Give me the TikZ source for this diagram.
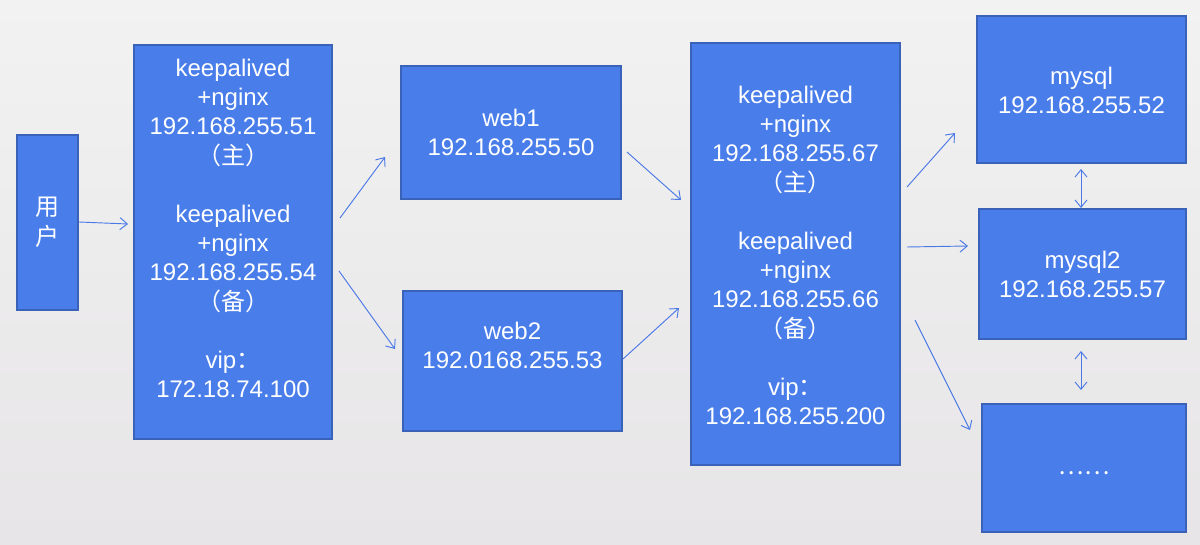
\documentclass[tikz,border=0pt]{standalone}
\usepackage{fontspec}
\setmainfont{Liberation Sans}
\newfontfamily\cjk{Noto Sans CJK SC}
\usetikzlibrary{arrows.meta,fit}
\definecolor{boxfill}{HTML}{487DEA}
\definecolor{boxline}{HTML}{3A62B8}
\definecolor{arrowc}{HTML}{4A78E6}
\definecolor{bgtop}{HTML}{F2F2F2}
\definecolor{bgbot}{HTML}{E7E5E7}
\tikzset{
  box/.style={draw=boxline, line width=0.9pt, fill=boxfill, inner sep=0pt},
  lbl/.style={text=white, align=center, inner sep=0pt, font=\fontsize{18}{21.75}\selectfont},
  conn/.style={draw=arrowc, line width=0.7pt, -{Straight Barb[length=5.5pt,width=9pt]}},
  biconn/.style={draw=arrowc, line width=0.7pt, {Straight Barb[length=5.5pt,width=9pt]}-{Straight Barb[length=5.5pt,width=9pt]}},
}
\begin{document}
\begin{tikzpicture}[x=0.75pt,y=-0.75pt]
\shade[top color=bgtop, bottom color=bgbot] (0,0) rectangle (1200,545);
\useasboundingbox (0,0) rectangle (1200,545);

% boxes
\node[box, fit={(17,135) (78,310)}] (user) {};
\node[box, fit={(134,45) (332,439)}] (lb1) {};
\node[box, fit={(401,66) (621,199)}] (web1) {};
\node[box, fit={(403,291) (622,431)}] (web2) {};
\node[box, fit={(691,43) (900,465)}] (lb2) {};
\node[box, fit={(977,16) (1186,163)}] (db1) {};
\node[box, fit={(979,209) (1186,339)}] (db2) {};
\node[box, fit={(982,404) (1186,532)}] (db3) {};

% labels
\node[lbl] (tuser) at (47,222.5) {\cjk 用\\[1pt]\cjk 户};
\node[lbl] (tlb1) at (233,228.5) {keepalived\\+nginx\\192.168.255.51\\[1pt]{\cjk （主）}\\[21.75pt]keepalived\\+nginx\\192.168.255.54\\[1pt]{\cjk （备）}\\[21.75pt]vip{\cjk ：}\\172.18.74.100};
\node[lbl] (tweb1) at (511,132) {web1\\192.168.255.50};
\node[lbl] (tweb2) at (512.5,345.5) {web2\\192.0168.255.53};
\node[lbl] (tlb2) at (795.5,255.5) {keepalived\\+nginx\\192.168.255.67\\[1pt]{\cjk （主）}\\[21.75pt]keepalived\\+nginx\\192.168.255.66\\[1pt]{\cjk （备）}\\[21.75pt]vip{\cjk ：}\\192.168.255.200};
\node[lbl] (tdb1) at (1081.5,90) {mysql\\192.168.255.52};
\node[lbl] (tdb2) at (1082.5,274) {mysql2\\192.168.255.57};
\node[lbl] (tdb3) at (1084,473) {\cjk ……};

% connector end points
\coordinate (a1s) at (79,222);   \coordinate (a1e) at (128,224);
\coordinate (a2s) at (340,218);  \coordinate (a2e) at (385,157);
\coordinate (a3s) at (339,271);  \coordinate (a3e) at (395,349);
\coordinate (a4s) at (627,152);  \coordinate (a4e) at (681,200);
\coordinate (a5s) at (623,359);  \coordinate (a5e) at (679,308);
\coordinate (a6s) at (907,187);  \coordinate (a6e) at (955,133);
\coordinate (a7s) at (907,247);  \coordinate (a7e) at (968,246);
\coordinate (a8s) at (915,320);  \coordinate (a8e) at (970,430);
\coordinate (b1s) at (1081,169); \coordinate (b1e) at (1081,208);
\coordinate (b2s) at (1081,351); \coordinate (b2e) at (1081,390);

\draw[conn] (a1s) -- (a1e);
\draw[conn] (a2s) -- (a2e);
\draw[conn] (a3s) -- (a3e);
\draw[conn] (a4s) -- (a4e);
\draw[conn] (a5s) -- (a5e);
\draw[conn] (a6s) -- (a6e);
\draw[conn] (a7s) -- (a7e);
\draw[conn] (a8s) -- (a8e);
\draw[biconn] (b1s) -- (b1e);
\draw[biconn] (b2s) -- (b2e);
\end{tikzpicture}
\end{document}
